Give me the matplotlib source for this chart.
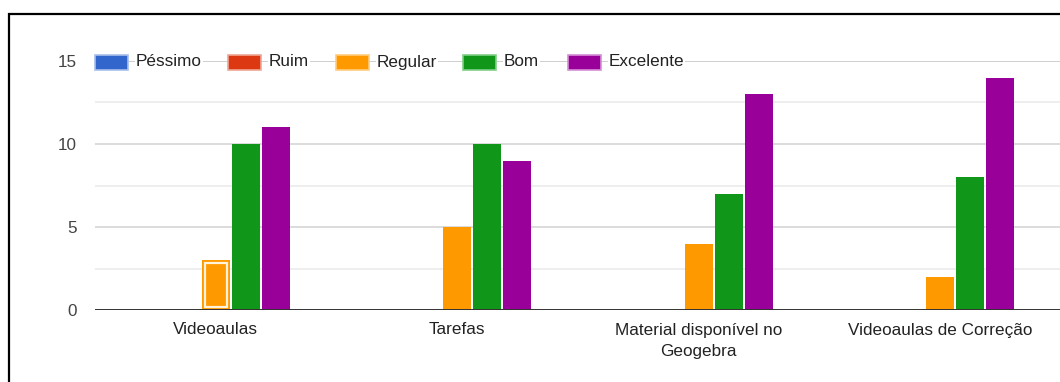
import matplotlib
matplotlib.use("Agg")
import matplotlib.pyplot as plt
from matplotlib.patches import Rectangle
import numpy as np

plt.rcParams['font.family'] = ['Liberation Sans', 'DejaVu Sans']

categories = ["Videoaulas", "Tarefas", "Material disponível no\nGeogebra", "Videoaulas de Correção"]
series_names = ["Péssimo", "Ruim", "Regular", "Bom", "Excelente"]
pessimo = [0, 0, 0, 0]
ruim = [0, 0, 0, 0]
regular = [3, 5, 4, 2]
bom = [10, 10, 7, 8]
excelente = [11, 9, 13, 14]
y_ticks = [0, 5, 10, 15]

series_values = [pessimo, ruim, regular, bom, excelente]
colors = ["#3366cc", "#dc3912", "#ff9900", "#109618", "#990099"]
edge_colors = ["#a9c0ea", "#f0a793", "#ffcc80", "#80d088", "#d68fd6"]

FS = 12.3
W, H = 1060, 382
fig = plt.figure(figsize=(W / 100, H / 100), dpi=100)
fig.patch.set_facecolor("white")

def fx(px):
    return px / W

def fy(py):
    return 1 - py / H

ax = fig.add_axes([fx(95), fy(310), fx(1061) - fx(95), fy(61) - fy(310)])
ax.set_xlim(-0.5, len(categories) - 0.5)
ax.set_ylim(0, 15)
for s in ax.spines.values():
    s.set_visible(False)

# gridlines
for v in np.arange(2.5, 15, 5):
    ax.axhline(v, color="#ebebeb", lw=1.2, zorder=0)
for v in y_ticks[1:-1]:
    ax.axhline(v, color="#d9d9d9", lw=1.3, zorder=0)
ax.axhline(15, color="#cccccc", lw=1.3, zorder=0)

slot = 0.1243
bw = slot * 0.94
x = np.arange(len(categories))
bar_groups = []
for i, (vals, c, ec) in enumerate(zip(series_values, colors, edge_colors)):
    offs = (i - 2) * slot
    bars = ax.bar(x + offs, vals, width=bw, color=c, zorder=2,
                  edgecolor=ec if max(vals) == 0 else "none", lw=1)
    bar_groups.append(bars)

# highlighted bar (hover state) on the first Regular bar
hb = bar_groups[2][0]
ix = 3 / 241.3
iy = 3 / 16.6
ax.add_patch(Rectangle((hb.get_x() + ix, hb.get_y() + iy),
                       hb.get_width() - 2 * ix, hb.get_height() - 2 * iy,
                       fill=False, edgecolor="#fff3dc", lw=1.6, zorder=3))

ax.axhline(0, color="#333333", lw=1.4, zorder=4)

ax.set_yticks(y_ticks)
ax.set_yticklabels([str(v) for v in y_ticks], color="#444444", fontsize=FS)
ax.tick_params(axis="y", length=0, pad=13)
ax.set_xticks(x)
ax.set_xticklabels(categories, color="#222222", fontsize=FS, linespacing=1.55)
ax.tick_params(axis="x", length=0, pad=9)
ax.set_facecolor("none")

# legend drawn along the top gridline
leg_swatch_x = [95, 228, 336, 463, 568]
for name, c, ec, sx in zip(series_names, colors, edge_colors, leg_swatch_x):
    fig.patches.append(Rectangle((fx(sx), fy(70)), fx(33), 15 / H,
                                 transform=fig.transFigure, facecolor=c,
                                 edgecolor=ec, lw=1.2, zorder=5))
    fig.text(fx(sx + 41), fy(62), name, ha="left", va="center",
             fontsize=FS, color="#222222", zorder=5,
             bbox=dict(boxstyle="square,pad=0.05", fc="white", ec="none"))

# outer frame
fig.patches.append(Rectangle((fx(8.5), -0.2), 1.2, fy(13.5) + 0.2,
                             transform=fig.transFigure, fill=False,
                             edgecolor="black", lw=1.6, zorder=10))

fig.savefig("out.png", dpi=100, facecolor="white")
